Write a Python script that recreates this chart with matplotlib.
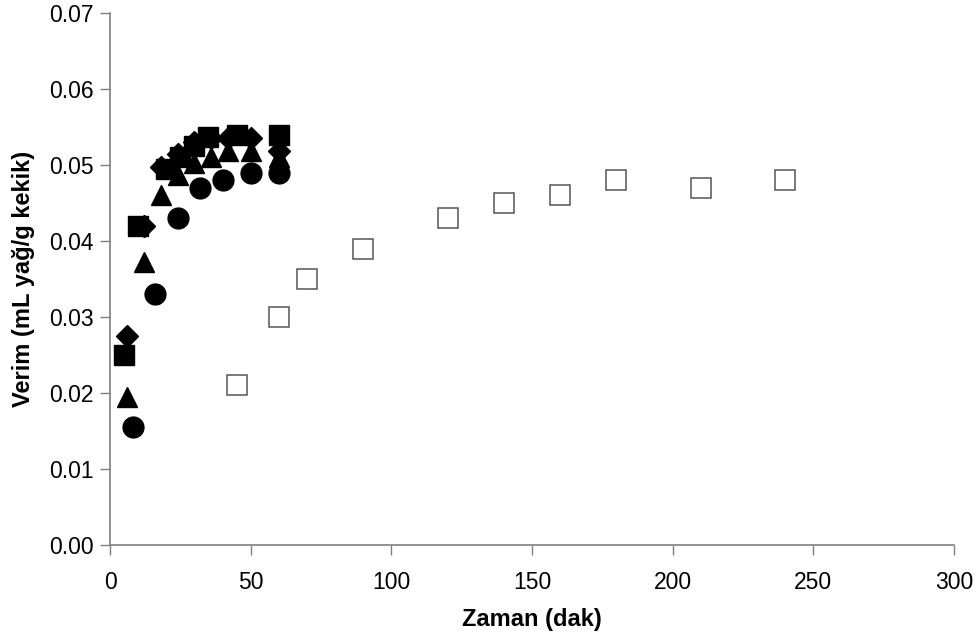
import matplotlib
matplotlib.use("Agg")
import matplotlib.pyplot as plt

plt.rcParams['font.family'] = ['Liberation Sans', 'DejaVu Sans']

# extraction series (time in min, yield in mL oil / g thyme)
diamond_t = [6, 12, 18, 24, 30, 36, 42, 50, 60]
diamond_y = [0.0275, 0.042, 0.0497, 0.0515, 0.053, 0.0535, 0.0535, 0.0535, 0.0518]

square_t = [5, 10, 20, 25, 30, 35, 45, 60]
square_y = [0.025, 0.042, 0.0495, 0.051, 0.0525, 0.0537, 0.054, 0.054]

triangle_t = [6, 12, 18, 24, 30, 36, 42, 50, 60]
triangle_y = [0.0195, 0.0373, 0.046, 0.0487, 0.0502, 0.0511, 0.0518, 0.0518, 0.051]

circle_t = [8, 16, 24, 32, 40, 50, 60]
circle_y = [0.0155, 0.033, 0.043, 0.047, 0.048, 0.049, 0.049]

open_t = [45, 60, 70, 90, 120, 140, 160, 180, 210, 240]
open_y = [0.021, 0.030, 0.035, 0.039, 0.043, 0.045, 0.046, 0.048, 0.047, 0.048]

fig = plt.figure(figsize=(9.77, 6.41), dpi=100)
ax = fig.add_axes([0.1126, 0.1498, 0.8639, 0.8299])

ax.plot(open_t, open_y, 's', ms=15, mfc='white', mec='#555555', mew=1.1, ls='none')
ax.plot(circle_t, circle_y, 'o', ms=15, color='black', ls='none')
ax.plot(triangle_t, triangle_y, '^', ms=15, color='black', ls='none')
ax.plot(diamond_t, diamond_y, 'D', ms=11, color='black', ls='none')
ax.plot(square_t, square_y, 's', ms=15, color='black', ls='none')

ax.set_xlim(0, 300)
ax.set_ylim(0, 0.07)
ax.set_xticks(range(0, 301, 50))
ax.set_yticks([i / 100 for i in range(8)])
ax.yaxis.set_major_formatter(matplotlib.ticker.FormatStrFormatter('%.2f'))

for side in ('top', 'right'):
    ax.spines[side].set_visible(False)
for side in ('left', 'bottom'):
    ax.spines[side].set_color('#808080')
    ax.spines[side].set_linewidth(1.2)
ax.tick_params(direction='out', length=7, width=1, color='#808080',
               labelsize=16.5, pad=5)
ax.tick_params(axis='x', pad=12)

ax.set_xlabel('Zaman (dak)', fontsize=17, fontweight='bold', labelpad=10)
ax.set_ylabel('Verim (mL yağ/g kekik)', fontsize=17, fontweight='bold', labelpad=10)

fig.savefig('out.png', dpi=100)
